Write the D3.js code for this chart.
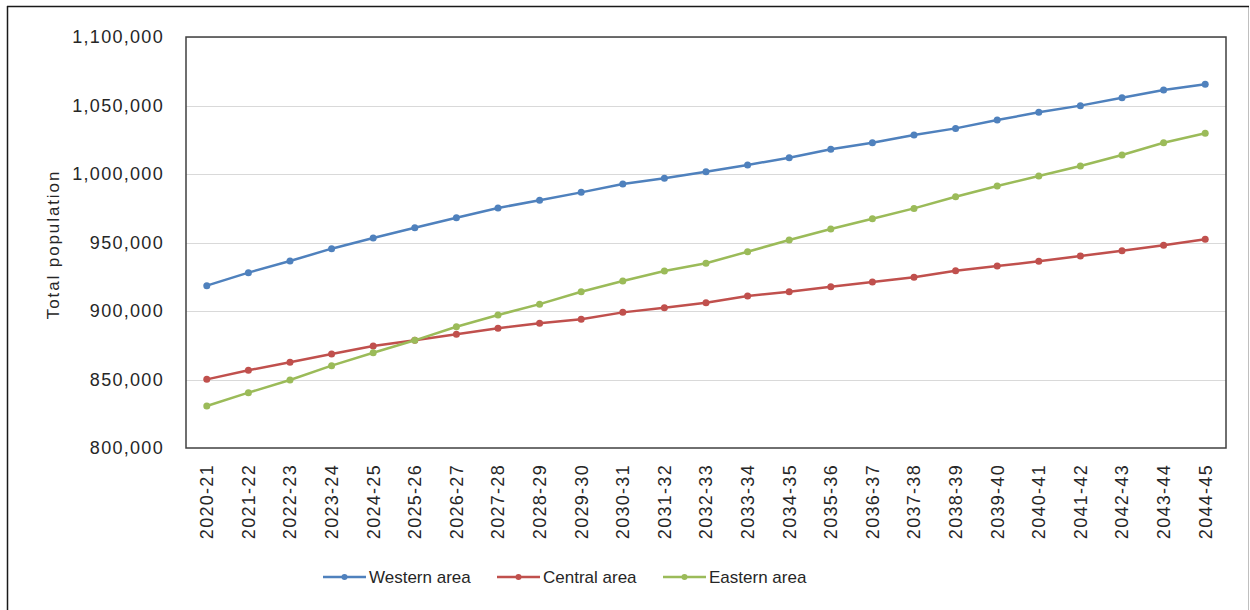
<!DOCTYPE html>
<html>
<head>
<meta charset="utf-8">
<script src="https://cdn.jsdelivr.net/npm/d3@7"></script>
<style>
  html, body { margin: 0; padding: 0; background: #fff; }
  svg { display: block; }
  text { font-family: "Liberation Sans", Arial, sans-serif; fill: #262626; }
</style>
</head>
<body>
<svg id="chart" width="1250" height="610"></svg>
<script>
// Financial years on the x axis
const years = ["2020-21","2021-22","2022-23","2023-24","2024-25","2025-26","2026-27","2027-28","2028-29","2029-30",
  "2030-31","2031-32","2032-33","2033-34","2034-35","2035-36","2036-37","2037-38","2038-39","2039-40",
  "2040-41","2041-42","2042-43","2043-44","2044-45"];

// Projected total population by area
const western = [918500, 928000, 936500, 945500, 953300, 960800, 968100, 975200, 980800, 986600,
  992700, 996900, 1001700, 1006600, 1011900, 1018000, 1022800, 1028500, 1033300, 1039400,
  1045000, 1049900, 1055700, 1061300, 1065500];
const central = [850100, 856700, 862600, 868600, 874500, 878600, 883000, 887400, 891000, 893900,
  899000, 902400, 906100, 910900, 914100, 917700, 921200, 924600, 929400, 932800,
  936300, 940100, 944000, 948000, 952400];
const eastern = [830700, 840400, 849600, 860100, 869500, 878600, 888500, 897100, 905000, 914100,
  921900, 929200, 934800, 943300, 951800, 959800, 967300, 974900, 983400, 991200,
  998500, 1005800, 1013900, 1022800, 1029700];

const seriesNames = ["Western area", "Central area", "Eastern area"];
const seriesColors = ["#4F81BD", "#C0504D", "#9BBB59"];
const yTicks = [800000, 850000, 900000, 950000, 1000000, 1050000, 1100000];

const series = [western, central, eastern].map((values, i) => ({
  name: seriesNames[i], color: seriesColors[i], values
}));

const svg = d3.select("#chart");
const W = 1250, H = 610;
const plot = { left: 186, top: 37, right: 1226, bottom: 448 };

// Outer chart frame
svg.append("rect").attr("x", 7.5).attr("y", 6.5).attr("width", 1241).attr("height", 610)
  .attr("fill", "#fff").attr("stroke", "#bfbfbf").attr("stroke-width", 1);
svg.append("line").attr("x1", 7.5).attr("x2", 7.5).attr("y1", 6).attr("y2", H)
  .attr("stroke", "#1a1a1a").attr("stroke-width", 1.5);
svg.append("line").attr("x1", 7).attr("x2", 1249).attr("y1", 6.5).attr("y2", 6.5)
  .attr("stroke", "#1a1a1a").attr("stroke-width", 1.5);

const x = d3.scaleBand().domain(years).range([plot.left, plot.right]);
const y = d3.scaleLinear().domain([800000, 1100000]).range([plot.bottom, plot.top]);
const cx = d => x(d) + x.bandwidth() / 2;

// Gridlines
svg.append("g").selectAll("line").data(yTicks.slice(1)).join("line")
  .attr("x1", plot.left).attr("x2", plot.right)
  .attr("y1", d => Math.round(y(d)) + 0.5).attr("y2", d => Math.round(y(d)) + 0.5)
  .attr("stroke", "#d9d9d9").attr("stroke-width", 1.2);

// Y axis labels
const fmt = d3.format(",");
const yAxis = svg.append("g").attr("transform", `translate(${plot.left},0)`)
  .call(d3.axisLeft(y).tickValues(yTicks).tickFormat(fmt).tickSize(0).tickPadding(22));
yAxis.select(".domain").remove();
yAxis.selectAll("text").attr("font-size", 18).attr("letter-spacing", 1.3)
  .attr("font-family", "Liberation Sans, Arial, sans-serif").attr("fill", "#262626");

// X axis labels (rotated)
const xAxis = svg.append("g").attr("transform", `translate(0,${plot.bottom})`)
  .call(d3.axisBottom(x).tickSize(0).tickPadding(0));
xAxis.select(".domain").remove();
xAxis.selectAll("text")
  .attr("font-size", 18).attr("letter-spacing", 1.3)
  .attr("font-family", "Liberation Sans, Arial, sans-serif").attr("fill", "#262626")
  .attr("text-anchor", "end")
  .attr("transform", "rotate(-90)")
  .attr("x", -16).attr("y", 0).attr("dy", "0.35em");

// Plot frame
svg.append("rect").attr("x", plot.left).attr("y", plot.top)
  .attr("width", plot.right - plot.left).attr("height", plot.bottom - plot.top)
  .attr("fill", "none").attr("stroke", "#404040").attr("stroke-width", 1.5);

// Y axis title
svg.append("text")
  .attr("transform", `translate(59,${(plot.top + plot.bottom) / 2 + 2}) rotate(-90)`)
  .attr("text-anchor", "middle").attr("font-size", 17).attr("letter-spacing", 1.9)
  .text("Total population");

// Series lines and markers
const line = d3.line().x((d, i) => cx(years[i])).y(d => y(d));
const g = svg.append("g");
series.forEach(s => {
  g.append("path").datum(s.values).attr("d", line)
    .attr("fill", "none").attr("stroke", s.color).attr("stroke-width", 2.5)
    .attr("stroke-linejoin", "round");
  g.append("g").selectAll("circle").data(s.values).join("circle")
    .attr("cx", (d, i) => cx(years[i])).attr("cy", d => y(d)).attr("r", 3.5)
    .attr("fill", s.color);
});

// Legend
const legendX = [323, 497, 663];
const legend = svg.append("g").attr("transform", "translate(0,577)");
series.forEach((s, i) => {
  const lg = legend.append("g").attr("transform", `translate(${legendX[i]},0)`);
  lg.append("line").attr("x1", 0).attr("x2", 43).attr("y1", 0).attr("y2", 0)
    .attr("stroke", s.color).attr("stroke-width", 2.5);
  lg.append("circle").attr("cx", 21.5).attr("cy", 0).attr("r", 3).attr("fill", s.color);
  lg.append("text").attr("x", 46).attr("y", 0).attr("dy", "0.35em")
    .attr("font-size", 17).attr("letter-spacing", 0).text(s.name);
});
</script>
</body>
</html>
